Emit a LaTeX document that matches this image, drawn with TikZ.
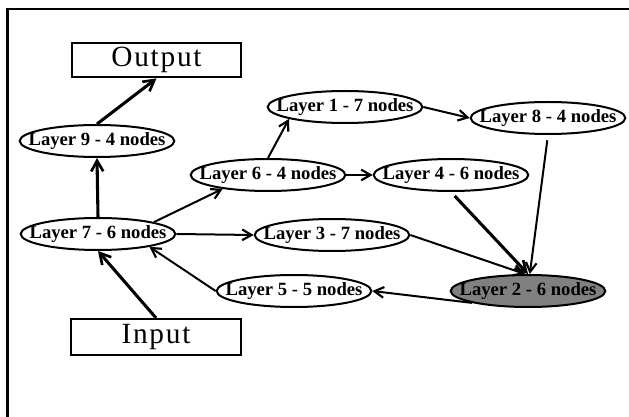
\documentclass[tikz,border=0pt]{standalone}
\usepackage{fontspec}
\setmainfont{Liberation Serif}
\newfontfamily\boxfont[LetterSpace=6]{Liberation Serif}
\usetikzlibrary{shapes.geometric,arrows.meta}
\definecolor{layergray}{HTML}{808080}
\tikzset{
  layer/.style={ellipse, draw=black, line width=1.5pt, fill=white,
    minimum width=116pt, minimum height=24pt, inner sep=0pt},
  layertext/.style={font=\fontsize{14}{16}\selectfont\bfseries, inner sep=0pt},
  iobox/.style={rectangle, draw=black, line width=1.6pt, fill=white,
    minimum width=127pt, minimum height=26pt, inner sep=0pt,
    font=\fontsize{22}{24}\selectfont\boxfont},
  link/.style={line width=1.5pt, -{Straight Barb[length=7pt,width=8pt,line width=1.6pt]}},
  thicklink/.style={line width=2.3pt, -{Straight Barb[length=8pt,width=9pt,line width=2pt]}}
}
\begin{document}
\begin{tikzpicture}[x=0.75pt, y=-0.75pt]
  \useasboundingbox (0,0) rectangle (629,417);
  % frame edges along the top and left
  \draw[line width=2pt] (7.5,417) -- (7.5,9) -- (629,9);

  % input / output boxes
  \node[iobox] (out) at (156.5,60) {Output};
  \node[iobox, minimum height=27pt] (in) at (156,337) {Input};

  % layers
  \node[layer, label={[layertext]center:Layer 9 - 4 nodes}] (l9) at (97,141) {};
  \node[layer, label={[layertext]center:Layer 7 - 6 nodes}] (l7) at (98,234) {};
  \node[layer, label={[layertext]center:Layer 6 - 4 nodes}] (l6) at (268,175) {};
  \node[layer, label={[layertext]center:Layer 1 - 7 nodes}] (l1) at (345,107) {};
  \node[layer, label={[layertext]center:Layer 8 - 4 nodes}] (l8) at (548,118) {};
  \node[layer, label={[layertext]center:Layer 4 - 6 nodes}] (l4) at (451,175) {};
  \node[layer, label={[layertext]center:Layer 3 - 7 nodes}] (l3) at (332,235) {};
  \node[layer, label={[layertext]center:Layer 5 - 5 nodes}] (l5) at (294,291) {};
  \node[layer, fill=layergray, label={[layertext]center:Layer 2 - 6 nodes}] (l2) at (528,291) {};

  % connections
  \draw[thicklink] (in.north) -- (l7.south);
  \draw[thicklink] (l7.north) -- (l9.south);
  \draw[thicklink] (l9.north) -- (out.south);
  \draw[link] (l7.12) -- (l6.197);
  \draw[link] (l7.east) -- (l3.west);
  \draw[link] (l6.north) -- (l1.192);
  \draw[link] (l6.east) -- (l4.west);
  \draw[link] (l1.east) -- (l8.west);
  \draw[thicklink, shorten <=4pt] (l4.south) -- (l2.north);
  \draw[link, shorten <=4pt] (l8.south) -- (l2.84);
  \draw[link] (l3.east) -- (l2.100);
  \draw[link] (l2.192) -- (l5.east);
  \draw[link] (l5.west) -- (l7.-14);
\end{tikzpicture}
\end{document}
